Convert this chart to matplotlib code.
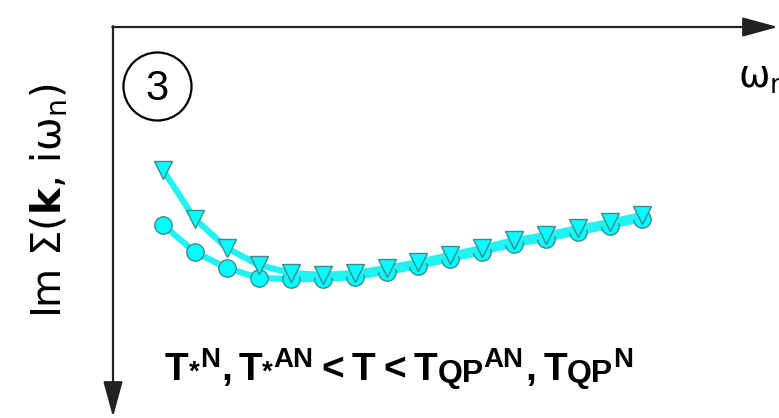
import matplotlib
matplotlib.use('Agg')
import matplotlib.pyplot as plt

plt.rcParams['font.family'] = ['DejaVu Sans']
plt.rcParams['mathtext.fontset'] = 'dejavusans'

# Matsubara index n and Im Sigma (arbitrary units)
n_idx = list(range(16))
sigma_circ = [-1.98, -2.25, -2.41, -2.51, -2.52, -2.52, -2.50, -2.45,
              -2.39, -2.32, -2.25, -2.17, -2.12, -2.05, -1.99, -1.92]
sigma_tri = [-1.43, -1.92, -2.21, -2.38, -2.46, -2.48, -2.46, -2.41,
             -2.35, -2.28, -2.21, -2.13, -2.08, -2.01, -1.95, -1.88]

# bottom caption, drawn piece by piece: (text, size, raise px, gap px)
caption = [('T', 28, 0, 0), ('*', 20, 0, 0), ('N', 20, 13, 1),
           (',', 28, 0, 1), ('T', 28, 0, 6), ('*', 20, 0, 0), ('AN', 20, 13, 1),
           ('<', 28, 0, 8), ('T', 28, 0, 7), ('<', 28, 0, 8),
           ('T', 28, 0, 8), ('QP', 23, -2, 0), ('AN', 20, 13, 0),
           (',', 28, 0, 2), ('T', 28, 0, 7), ('QP', 23, -2, 0), ('N', 20, 13, 0)]

W, H = 779, 418
fig = plt.figure(figsize=(W / 100, H / 100), dpi=100)
ax = fig.add_axes([0, 0, 1, 1])
ax.axis('off')
ax.set_xlim(-5.105, 19.29)
ax.set_ylim(-3.91, 0.27)

line_col = '#22F2F2'
edge_col = '#3E8A8A'

# circles (behind)
ax.plot(n_idx, sigma_circ, color=line_col, lw=4.5, zorder=2)
ax.plot(n_idx, sigma_circ, ls='none', marker='o', ms=12.5,
        mfc='#00FFFF', mec=edge_col, mew=1.0, zorder=3)
# triangles (front)
ax.plot(n_idx, sigma_tri, color=line_col, lw=4.5, zorder=4)
ax.plot(n_idx, sigma_tri, ls='none', marker='v', ms=13,
        mfc='#00FFFF', mec=edge_col, mew=1.0, zorder=5)

# axis arrows
x0, y0 = 113 / W, 1 - 27 / H
arrow = dict(arrowstyle='-|>,head_length=1.1,head_width=0.3',
             color='#222222', lw=1.6, mutation_scale=20, shrinkA=0, shrinkB=0)
ax.annotate('', xy=(778 / W, y0), xytext=(x0 - 0.001, y0),
            xycoords='axes fraction', arrowprops=arrow)
ax.annotate('', xy=(x0, 1 - 417 / H), xytext=(x0, y0 + 0.002),
            xycoords='axes fraction', arrowprops=arrow)

# circled panel number
ax.plot([157 / W], [1 - 86 / H], marker='o', ms=49, mfc='none', mec='black',
        mew=1.6, transform=ax.transAxes)
ax.text(157 / W, 1 - 100 / H, '3', fontsize=30, family='Liberation Sans',
        ha='center', va='baseline', transform=ax.transAxes)

# labels
ax.text(50 / W, 1 - 201 / H,
        r'Im $\Sigma$($\mathbf{k}$, i$\mathrm{\omega}_\mathrm{n}$)',
        fontsize=29, rotation=90, ha='center', va='center', transform=ax.transAxes)
ax.text(738 / W, 1 - 88 / H, r'$\mathrm{\omega}_\mathrm{n}$', fontsize=27,
        ha='left', va='baseline', transform=ax.transAxes)

renderer = fig.canvas.get_renderer()
x = 165
for s, size, dy, gap in caption:
    x += gap
    t = ax.text(x / W, 1 - (380 - dy) / H, s, fontsize=size, fontweight='bold',
                family='Liberation Sans', ha='left', va='baseline',
                transform=ax.transAxes)
    x = t.get_window_extent(renderer).x1

fig.savefig('out.png', dpi=100)
